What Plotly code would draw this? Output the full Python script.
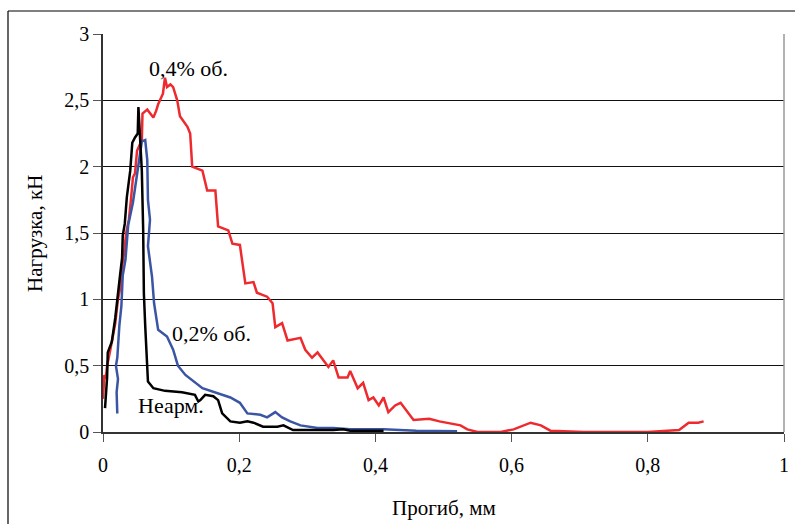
import plotly.graph_objects as go

# 0,4% об. (red)
red_x = [0.0, 0.002, 0.004, 0.006, 0.01, 0.015, 0.018, 0.022, 0.025, 0.028, 0.031, 0.034, 0.038, 0.041,
         0.044, 0.047, 0.05, 0.057, 0.058, 0.065, 0.074,
         0.078, 0.081, 0.088, 0.091, 0.094, 0.099, 0.103, 0.109, 0.113, 0.124, 0.128, 0.131, 0.146, 0.153,
         0.165, 0.169, 0.184, 0.19, 0.201, 0.209, 0.221, 0.226, 0.241, 0.249, 0.253, 0.263, 0.271, 0.29,
         0.297, 0.307, 0.315, 0.331, 0.338, 0.346, 0.359, 0.363, 0.374, 0.382, 0.39, 0.397, 0.405, 0.412,
         0.419, 0.429, 0.437, 0.456, 0.479, 0.494, 0.525, 0.535, 0.55, 0.584, 0.603, 0.628, 0.643, 0.657,
         0.706, 0.8, 0.846, 0.86, 0.874, 0.882]
red_y = [0.25, 0.43, 0.4, 0.5, 0.6, 0.74, 0.82, 1.0, 1.08, 1.25, 1.35, 1.5, 1.6, 1.75,
         1.92, 1.95, 2.12, 2.2, 2.4, 2.43, 2.37,
         2.42, 2.47, 2.55, 2.67, 2.6, 2.62, 2.6, 2.5, 2.38, 2.3, 2.25, 2.0, 1.97, 1.82,
         1.82, 1.55, 1.52, 1.42, 1.41, 1.12, 1.13, 1.05, 1.02, 0.97, 0.79, 0.82, 0.69, 0.71,
         0.62, 0.56, 0.6, 0.49, 0.54, 0.41, 0.41, 0.46, 0.33, 0.37, 0.24, 0.26, 0.2, 0.26,
         0.15, 0.2, 0.22, 0.09, 0.1, 0.08, 0.05, 0.02, 0.0, 0.0, 0.02, 0.07, 0.05, 0.01,
         0.0, 0.0, 0.015, 0.07, 0.07, 0.08]

# 0,2% об. (blue)
blue_x = [0.021, 0.02, 0.022, 0.019, 0.021, 0.024, 0.027, 0.029, 0.033, 0.035, 0.037, 0.044, 0.051, 0.057, 0.062,
          0.065, 0.066, 0.069, 0.066, 0.072, 0.075, 0.081, 0.094, 0.103, 0.11, 0.121, 0.146, 0.165,
          0.187, 0.201, 0.212, 0.231, 0.241, 0.253, 0.263, 0.275, 0.29, 0.315, 0.338, 0.363, 0.412,
          0.46, 0.52]
blue_y = [0.14, 0.3, 0.4, 0.5, 0.56, 0.8, 0.95, 1.18, 1.3, 1.43, 1.56, 1.73, 1.97, 2.19, 2.2,
          2.05, 1.75, 1.6, 1.4, 1.17, 0.97, 0.77, 0.72, 0.62, 0.5, 0.43, 0.33, 0.3,
          0.26, 0.22, 0.14, 0.13, 0.11, 0.15, 0.11, 0.08, 0.05, 0.03, 0.03, 0.02, 0.02,
          0.01, 0.005]

# Неарм. (black)
black_x = [0.003, 0.006, 0.007, 0.013, 0.018, 0.021, 0.025, 0.028, 0.029, 0.032, 0.035, 0.04, 0.043,
           0.047, 0.051, 0.052, 0.054, 0.057, 0.059, 0.06, 0.062, 0.065, 0.066, 0.074, 0.091, 0.116,
           0.135, 0.14, 0.143, 0.15, 0.162, 0.169, 0.175, 0.187, 0.201, 0.212, 0.221, 0.235, 0.256,
           0.265, 0.279, 0.338, 0.353, 0.363, 0.412]
black_y = [0.18, 0.41, 0.6, 0.68, 0.86, 0.98, 1.18, 1.31, 1.48, 1.57, 1.77, 1.97, 2.18,
           2.22, 2.25, 2.45, 2.27, 1.97, 1.52, 1.05, 0.8, 0.5, 0.38, 0.33, 0.31, 0.3,
           0.28, 0.23, 0.24, 0.28, 0.27, 0.24, 0.14, 0.08, 0.07, 0.08, 0.07, 0.04, 0.04,
           0.05, 0.015, 0.015, 0.02, 0.01, 0.01]

x_ticks = [0, 0.2, 0.4, 0.6, 0.8, 1]
x_tick_labels = ["0", "0,2", "0,4", "0,6", "0,8", "1"]
y_ticks = [0, 0.5, 1, 1.5, 2, 2.5, 3]
y_tick_labels = ["0", "0,5", "1", "1,5", "2", "2,5", "3"]

labels_text = ["0,4% об.", "0,2% об.", "Неарм."]
labels_x = [0.125, 0.159, 0.1]
labels_y = [2.74, 0.74, 0.2]

x_title = "Прогиб, мм"
y_title = "Нагрузка, кН"

FONT = "Liberation Serif"

fig = go.Figure()
fig.add_trace(go.Scatter(x=red_x, y=red_y, mode="lines", line=dict(color="#EE2A2E", width=2.5), showlegend=False))
fig.add_trace(go.Scatter(x=blue_x, y=blue_y, mode="lines", line=dict(color="#3B55A5", width=2.5), showlegend=False))
fig.add_trace(go.Scatter(x=black_x, y=black_y, mode="lines", line=dict(color="#000000", width=2.5), showlegend=False))

for t, x, y in zip(labels_text, labels_x, labels_y):
    fig.add_annotation(x=x, y=y, text=t, showarrow=False, xanchor="center", yanchor="middle",
                       font=dict(family=FONT, size=22, color="#000"))

# axis titles
fig.add_annotation(x=0.5, y=-0.191, xref="paper", yref="paper", text=x_title, showarrow=False,
                   xanchor="center", yanchor="middle", font=dict(family=FONT, size=21, color="#000"))
fig.add_annotation(x=-0.1, y=0.5, xref="paper", yref="paper", text=y_title, showarrow=False,
                   textangle=-90, xanchor="center", yanchor="middle", font=dict(family=FONT, size=21, color="#000"))

# chart outer frame (only left and top visible)
fig.add_shape(type="line", xref="paper", yref="paper", x0=-0.1395, x1=1.2, y0=1.0578, y1=1.0578,
              line=dict(color="#000", width=1.2))
fig.add_shape(type="line", xref="paper", yref="paper", x0=-0.1395, x1=-0.1395, y0=-0.4, y1=1.0578,
              line=dict(color="#000", width=1.2))
# plot area right border
fig.add_shape(type="line", xref="paper", yref="paper", x0=1, x1=1, y0=0, y1=1,
              line=dict(color="#999", width=1.5))

fig.update_layout(
    width=795, height=524,
    margin=dict(l=103, r=11, t=34, b=92),
    paper_bgcolor="white", plot_bgcolor="white",
    font=dict(family=FONT, size=20, color="#000"),
    xaxis=dict(range=[0, 1], tickvals=x_ticks, ticktext=x_tick_labels, showgrid=False,
               showline=True, linecolor="#333", linewidth=1.5, ticks="outside", ticklen=8,
               tickcolor="#555", zeroline=False, automargin=False, ticklabelstandoff=6),
    yaxis=dict(range=[0, 3], tickvals=y_ticks, ticktext=y_tick_labels, showgrid=True,
               gridcolor="#111", gridwidth=1, showline=True, linecolor="#333", linewidth=1.5,
               ticks="outside", ticklen=8, tickcolor="#555", zeroline=False, automargin=False),
)

fig.write_html("out.html")
